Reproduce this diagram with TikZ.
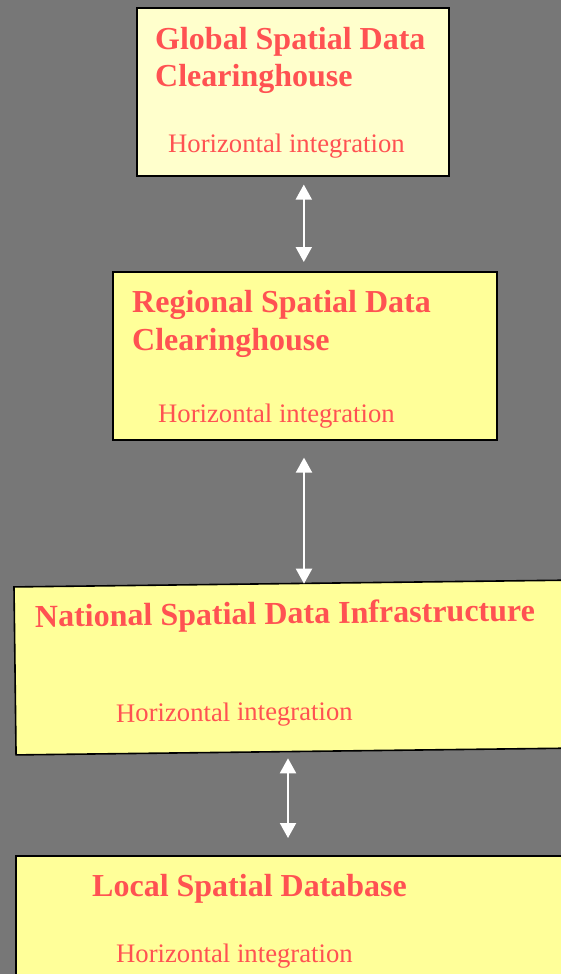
\documentclass[tikz,border=0pt]{standalone}
\usepackage{fontspec}
\setmainfont{Liberation Serif}
\usetikzlibrary{arrows.meta}
\definecolor{bg}{HTML}{777777}
\definecolor{paleyel}{HTML}{FFFFCC}
\definecolor{yel}{HTML}{FFFF99}
\definecolor{txt}{RGB}{255,82,82}
\tikzset{
  box/.style={draw=black, line width=1.6pt, rectangle, inner sep=0pt},
  ttl/.style={anchor=base west, inner sep=0pt, text=txt, font=\fontsize{32}{38}\selectfont\bfseries},
  sub/.style={anchor=base west, inner sep=0pt, text=txt, font=\fontsize{26.7}{32}\selectfont},
  arr/.style={draw=white, line width=2pt, {Triangle[width=16pt,length=15pt]}-{Triangle[width=16pt,length=15pt]}}
}
\begin{document}
\begin{tikzpicture}[x=1pt,y=1pt]
\useasboundingbox (0,0) rectangle (561,-974);
\fill[bg] (0,0) rectangle (561,-974);
\clip (0,0) rectangle (561,-974);
% boxes
\node[box, fill=paleyel, minimum width=312, minimum height=168, anchor=north west] (g) at (136,-7) {};
\node[box, fill=yel, minimum width=384, minimum height=168, anchor=north west] (r) at (112,-271) {};
\node[box, fill=yel, minimum width=560, minimum height=168, rotate=0.7] (n) at (295,-667.5) {};
\node[box, fill=yel, minimum width=560, minimum height=150, anchor=north west] (l) at (15,-855) {};
% texts
\node[ttl] (gt1) at (155,-49) {Global Spatial Data};
\node[ttl] (gt2) at (155,-86) {Clearinghouse};
\node[sub] (gs) at (168,-152) {Horizontal integration};
\node[ttl] (rt1) at (132,-312) {Regional Spatial Data};
\node[ttl] (rt2) at (132,-350) {Clearinghouse};
\node[sub] (rs) at (158,-422) {Horizontal integration};
\node[ttl, rotate=0.7] (nt) at (35,-627) {National Spatial Data Infrastructure};
\node[sub, rotate=0.5] (ns) at (116,-722) {Horizontal integration};
\node[ttl] (lt) at (92,-896) {Local Spatial Database};
\node[sub] (ls) at (116,-962) {Horizontal integration};
% connectors
\coordinate (a2) at (304,0);
\coordinate (a3) at (288,0);
\draw[arr] ([xshift=11pt,yshift=-8pt]g.south) -- ([xshift=-1pt,yshift=9pt]r.north);
\draw[arr] ([yshift=-17pt]a2 |- r.south) -- ([yshift=-1pt]a2 |- n.north);
\draw[arr] ([yshift=-6pt]a3 |- n.south) -- ([yshift=17pt]a3 |- l.north);
\end{tikzpicture}
\end{document}
